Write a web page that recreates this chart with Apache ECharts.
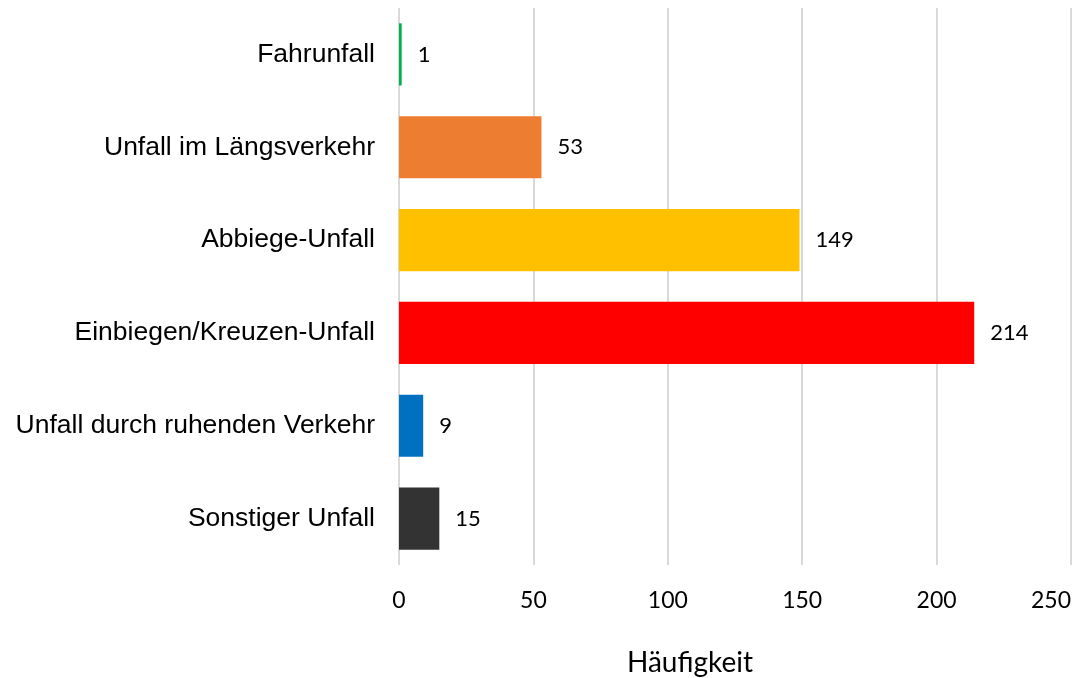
<!DOCTYPE html>
<html>
<head>
<meta charset="utf-8">
<script src="https://cdn.jsdelivr.net/npm/echarts@6/dist/echarts.min.js"></script>
<style>
  html, body { margin: 0; padding: 0; background: #fff; }
  #chart { width: 1091px; height: 678px; }
</style>
</head>
<body>
<div id="chart"></div>
<script>
// Unfalltypen, von oben nach unten
const categories = [
    'Fahrunfall',
    'Unfall im Längsverkehr',
    'Abbiege-Unfall',
    'Einbiegen/Kreuzen-Unfall',
    'Unfall durch ruhenden Verkehr',
    'Sonstiger Unfall'
];
const counts = [1, 53, 149, 214, 9, 15];
const barColors = ['#00b050', '#ed7d31', '#ffc000', '#ff0000', '#0070c0', '#333333'];
const xTicks = [0, 50, 100, 150, 200, 250];

const chart = echarts.init(document.getElementById('chart'));

const option = {
    animation: false,
    grid: {
        left: 399,
        right: 20,
        top: 8,
        bottom: 113
    },
    xAxis: {
        type: 'value',
        min: xTicks[0],
        max: xTicks[xTicks.length - 1],
        interval: 50,
        axisLine: { show: false },
        axisTick: { show: false },
        splitLine: { lineStyle: { color: '#d9d9d9', width: 2 } },
        axisLabel: {
            margin: 24,
            alignMaxLabel: 'right',
            fontFamily: 'Lato, "Open Sans", sans-serif',
            fontSize: 23,
            color: '#000'
        }
    },
    yAxis: {
        type: 'category',
        inverse: true,
        data: categories,
        axisLine: { show: false },
        axisTick: { show: false },
        axisLabel: {
            margin: 24,
            fontFamily: '"Liberation Sans", Arial, sans-serif',
            fontSize: 26.5,
            color: '#000'
        }
    },
    title: {
        text: 'Häufigkeit',
        left: 627,
        top: 649,
        padding: 0,
        textStyle: {
            fontFamily: 'Lato, "Open Sans", sans-serif',
            fontSize: 28,
            fontWeight: 'normal',
            color: '#000'
        }
    },
    series: [{
        type: 'bar',
        barCategoryGap: '33%',
        data: counts.map((v, i) => ({ value: v, itemStyle: { color: barColors[i] } })),
        label: {
            show: true,
            position: 'right',
            distance: 16,
            fontFamily: 'Lato, "Open Sans", sans-serif',
            fontSize: 22,
            color: '#000'
        }
    }]
};

chart.setOption(option);
</script>
</body>
</html>
